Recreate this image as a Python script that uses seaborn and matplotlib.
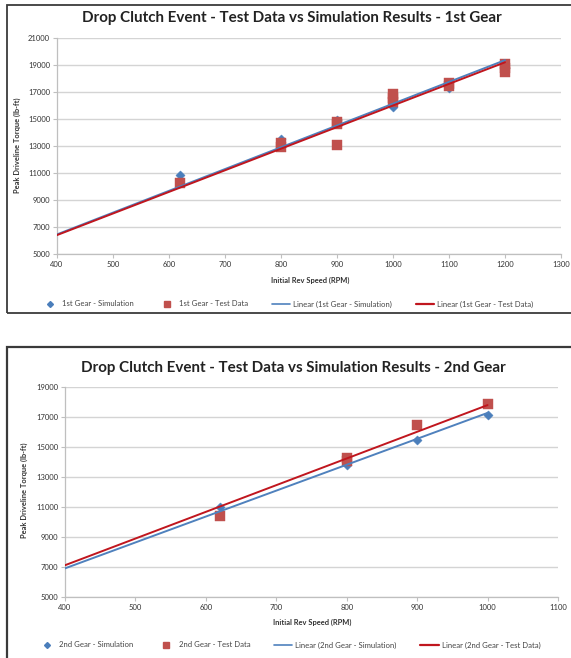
import numpy as np
import pandas as pd
import matplotlib
matplotlib.use("Agg")
import matplotlib.pyplot as plt
from matplotlib.lines import Line2D
from matplotlib.patches import Rectangle
import seaborn as sns

# ---- 1st gear data ----
g1_sim_rpm = [620, 800, 900, 1000, 1100, 1200]
g1_sim_torque = [10850, 13500, 14950, 15900, 17300, 18800]
g1_test_rpm = [620, 800, 800, 900, 900, 900, 1000, 1000, 1000, 1100, 1100, 1200, 1200, 1200]
g1_test_torque = [10250, 13200, 12950, 14800, 14600, 13050, 16850, 16550, 16250,
                  17700, 17450, 19050, 18750, 18500]

# ---- 2nd gear data ----
g2_sim_rpm = [620, 800, 900, 1000]
g2_sim_torque = [11000, 13800, 15500, 17150]
g2_test_rpm = [620, 800, 800, 900, 1000]
g2_test_torque = [10400, 14270, 14070, 16450, 17900]

g1_yticks = [5000, 7000, 9000, 11000, 13000, 15000, 17000, 19000, 21000]
g1_xticks = [400, 500, 600, 700, 800, 900, 1000, 1100, 1200, 1300]
g2_yticks = [5000, 7000, 9000, 11000, 13000, 15000, 17000, 19000]
g2_xticks = [400, 500, 600, 700, 800, 900, 1000, 1100]

SIM_C = "#4A7EBB"
TEST_C = "#C0504D"
SIM_LINE = "#4F81BD"
TEST_LINE = "#C0161E"

sns.set_theme(style="white")
plt.rcParams["font.family"] = ["Lato", "DejaVu Sans"]

W, H = 571, 658
fig = plt.figure(figsize=(W / 100, H / 100), dpi=100)
fig.patch.set_facecolor("white")


def px_axes(left, top, right, bottom):
    return fig.add_axes([left / W, 1 - bottom / H, (right - left) / W, (bottom - top) / H])


def trend(rpm, torque, x0):
    # linear trendline forced through the origin, drawn from x0 to the last rpm
    x = np.asarray(rpm, float)
    y = np.asarray(torque, float)
    k = (x * y).sum() / (x * x).sum()
    xs = np.array([x0, x.max()])
    return pd.DataFrame({"rpm": xs, "torque": k * xs})


def panel(ax, sim_x, sim_y, test_x, test_y, xticks, yticks):
    ax.set_facecolor("white")
    sim = pd.DataFrame({"rpm": sim_x, "torque": sim_y})
    test = pd.DataFrame({"rpm": test_x, "torque": test_y})
    sns.scatterplot(data=sim, x="rpm", y="torque", marker="D", s=22, color=SIM_C,
                    edgecolor=SIM_C, linewidth=0.3, ax=ax, zorder=3)
    sns.scatterplot(data=test, x="rpm", y="torque", marker="s", s=46, color=TEST_C,
                    edgecolor=TEST_C, linewidth=0.3, ax=ax, zorder=4)
    sns.lineplot(data=trend(sim_x, sim_y, xticks[0]), x="rpm", y="torque",
                 color=SIM_LINE, linewidth=1.4, ax=ax, zorder=5)
    sns.lineplot(data=trend(test_x, test_y, xticks[0]), x="rpm", y="torque",
                 color=TEST_LINE, linewidth=1.4, ax=ax, zorder=6)
    ax.set_xlim(xticks[0], xticks[-1])
    ax.set_ylim(yticks[0], yticks[-1])
    ax.set_xticks(xticks)
    ax.set_yticks(yticks)
    ax.set_xlabel("")
    ax.set_ylabel("")
    ax.grid(axis="y", color="#D4D4D4", linewidth=1.0)
    ax.grid(axis="x", visible=False)
    for s in ["top", "right"]:
        ax.spines[s].set_visible(False)
    for s in ["left", "bottom"]:
        ax.spines[s].set_color("#BFBFBF")
        ax.spines[s].set_linewidth(0.9)
    ax.tick_params(axis="both", labelsize=5.5, colors="#333333", length=3, width=0.8,
                   direction="out", pad=2)
    ax.tick_params(axis="both", color="#BFBFBF")
    ax.tick_params(axis="x", bottom=True)
    ax.tick_params(axis="y", left=True)
    if ax.get_legend():
        ax.get_legend().remove()


# ---- top panel: 1st gear ----
ax1 = px_axes(57, 38, 561, 254)
panel(ax1, g1_sim_rpm, g1_sim_torque, g1_test_rpm, g1_test_torque, g1_xticks, g1_yticks)

# ---- bottom panel: 2nd gear ----
ax2 = px_axes(65, 387, 558, 597)
panel(ax2, g2_sim_rpm, g2_sim_torque, g2_test_rpm, g2_test_torque, g2_xticks, g2_yticks)

# chart frames
fig.patches.append(Rectangle((7 / W, 1 - 313 / H), (W + 10) / W, 308 / H, transform=fig.transFigure,
                             fill=False, edgecolor="#3A3A3A", linewidth=1.3, zorder=0))
fig.patches.append(Rectangle((7 / W, -0.05), (W + 10) / W, 1 - 347 / H + 0.05, transform=fig.transFigure,
                             fill=False, edgecolor="#3A3A3A", linewidth=1.6, zorder=0))

# titles and axis labels
fig.text(292 / W, 1 - 18 / H, "Drop Clutch Event - Test Data vs Simulation Results - 1st Gear",
         ha="center", va="center", fontsize=10.9, fontweight="bold", color="#222222")
fig.text(310 / W, 1 - 280 / H, "Initial Rev Speed (RPM)", ha="center", va="center",
         fontsize=5.4, fontweight="bold", color="#333333")
fig.text(17 / W, 1 - 145 / H, "Peak Driveline Torque (lb-ft)", ha="center", va="center",
         rotation=90, fontsize=5.4, fontweight="bold", color="#333333")

fig.text(293 / W, 1 - 368 / H, "Drop Clutch Event - Test Data vs Simulation Results - 2nd Gear",
         ha="center", va="center", fontsize=10.9, fontweight="bold", color="#222222")
fig.text(312 / W, 1 - 622 / H, "Initial Rev Speed (RPM)", ha="center", va="center",
         fontsize=5.4, fontweight="bold", color="#333333")
fig.text(24 / W, 1 - 490 / H, "Peak Driveline Torque (lb-ft)", ha="center", va="center",
         rotation=90, fontsize=5.4, fontweight="bold", color="#333333")


def legend_for(gear, y_px, x_px):
    handles = [
        Line2D([], [], linestyle="none", marker="D", markersize=3, color=SIM_C),
        Line2D([], [], linestyle="none", marker="s", markersize=5, color=TEST_C),
        Line2D([], [], color=SIM_LINE, linewidth=1.2),
        Line2D([], [], color=TEST_LINE, linewidth=1.6),
    ]
    labels = [f"{gear} Gear - Simulation", f"{gear} Gear - Test Data",
              f"Linear ({gear} Gear - Simulation)", f"Linear ({gear} Gear - Test Data)"]
    fig.legend(handles, labels, loc="center", bbox_to_anchor=(x_px / W, 1 - y_px / H), ncol=4,
               frameon=False, fontsize=5.6, handlelength=2.4, columnspacing=3.0,
               handletextpad=0.4, labelcolor="#444444")


legend_for("1st", 304, 287)
legend_for("2nd", 645, 289)

fig.savefig("out.png", dpi=100, facecolor="white")
